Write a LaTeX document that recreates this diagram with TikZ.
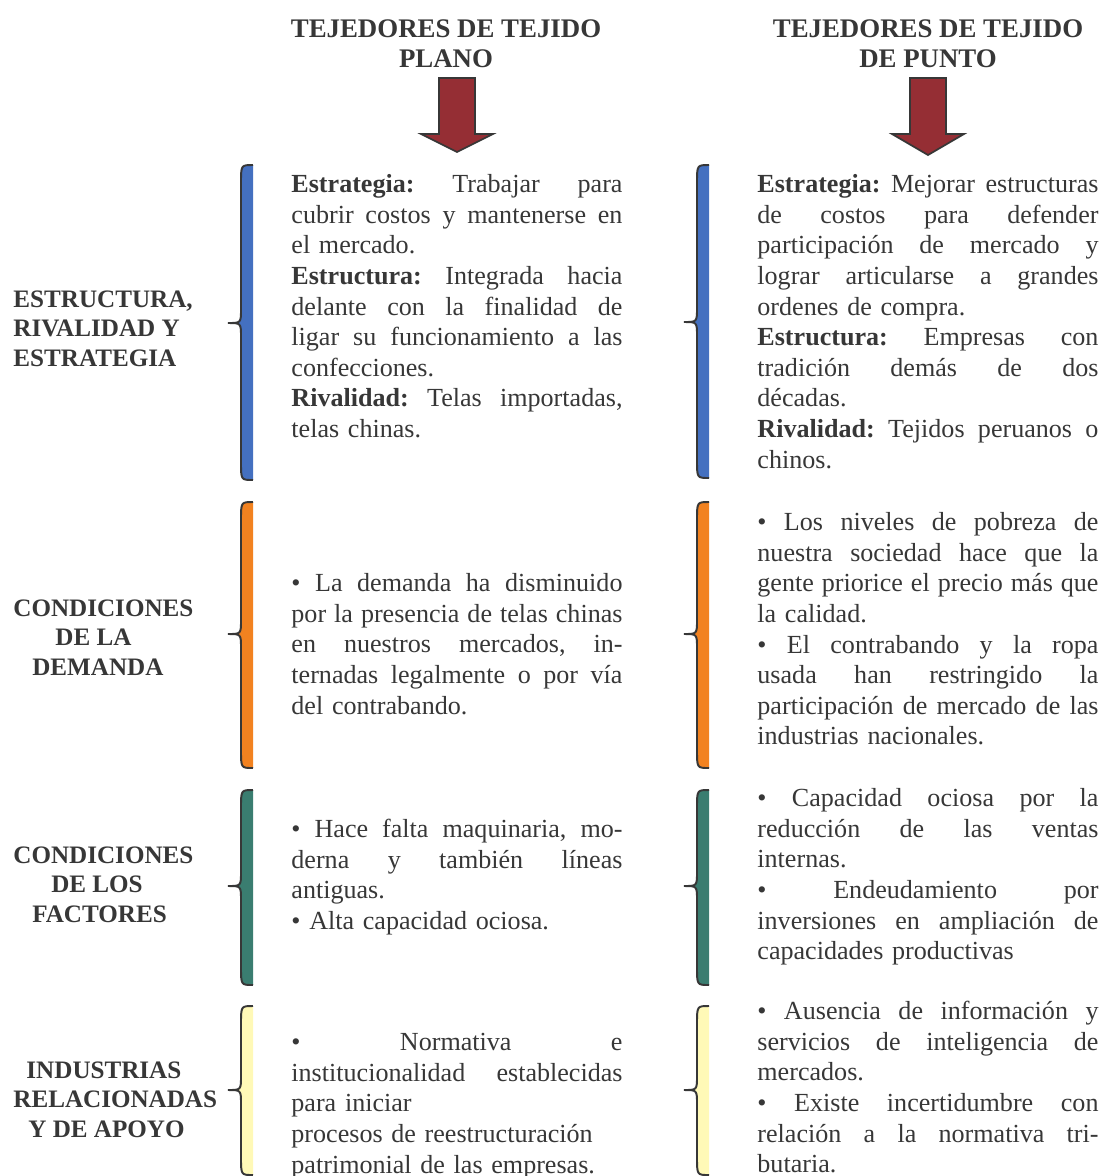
\documentclass[tikz,border=0pt]{standalone}
\usepackage{fontspec}
\setmainfont{Liberation Serif}
\usepackage{tikz}

\definecolor{inkgray}{RGB}{55,55,55}
\definecolor{arrowred}{RGB}{149,46,52}
\definecolor{braceblue}{RGB}{68,112,192}
\definecolor{braceorange}{RGB}{242,130,32}
\definecolor{braceteal}{RGB}{58,125,112}
\definecolor{braceyellow}{RGB}{255,249,183}

% one justified line of a block
\newlength{\linew}
\newcommand{\jl}[1]{\makebox[\linew][s]{\spaceskip=0pt\xspaceskip=0pt #1}}

\begin{document}
\begin{tikzpicture}[x=0.46pt,y=-0.46pt]
	\tikzset{every node/.style={inner sep=0pt,text=inkgray},
		body/.style={anchor=north west,align=left,text width=#1,font=\fontsize{12}{14.1}\selectfont,
			execute at begin node={\setlength{\parindent}{0pt}\setlength{\linew}{#1}\frenchspacing}},
		rowlabel/.style={anchor=north west,align=left,font=\fontsize{11.55}{13.6}\selectfont\bfseries},
		coltitle/.style={anchor=north,align=center,font=\fontsize{12.35}{13.8}\selectfont\bfseries}}
	\useasboundingbox (0,0) rectangle (1102,1176);

	% column titles and arrows
	\node [coltitle] (plano) at (446,16) {\strut TEJEDORES DE TEJIDO\\PLANO};
	\node [coltitle] (punto) at (928,16) {\strut TEJEDORES DE TEJIDO\\DE PUNTO};
	\foreach \cx/\tip in {457/152, 928/155}
		\draw [line width=0.8pt, draw=inkgray, fill=arrowred] (\cx-18,78) -- (\cx+18,78) -- (\cx+18,134) -- (\cx+36,134) -- (\cx,\tip) -- (\cx-36,134) -- (\cx-18,134) -- cycle;

	% braces
	\foreach \xt/\yt/\yb/\ym/\col in {228/165/480/323/braceblue, 228/502/768/634/braceorange, 228/790/985/886/braceteal, 228/1006/1175/1090/braceyellow,
		684/165/478/322/braceblue, 684/502/768/634/braceorange, 684/790/985/886/braceteal, 684/1006/1175/1090/braceyellow}
	{
		\fill [\col] (\xt+25,\yt) .. controls (\xt+13,\yt) .. (\xt+13,\yt+18) -- (\xt+13,\ym-14) .. controls (\xt+13,\ym) .. (\xt,\ym) .. controls (\xt+13,\ym) .. (\xt+13,\ym+14) -- (\xt+13,\yb-18) .. controls (\xt+13,\yb) .. (\xt+25,\yb) -- cycle;
		\draw [inkgray, line width=0.9pt] (\xt+25,\yt) .. controls (\xt+13,\yt) .. (\xt+13,\yt+18) -- (\xt+13,\ym-14) .. controls (\xt+13,\ym) .. (\xt,\ym) .. controls (\xt+13,\ym) .. (\xt+13,\ym+14) -- (\xt+13,\yb-18) .. controls (\xt+13,\yb) .. (\xt+25,\yb);
	}

	% row labels
	\node [rowlabel] (lab1) at (13,286) {\strut ESTRUCTURA,\\RIVALIDAD Y\\ESTRATEGIA};
	\node [rowlabel] (lab2) at (13,595) {\strut CONDICIONES\\\hspace*{19.3pt}DE LA\\\hspace*{8.7pt}DEMANDA};
	\node [rowlabel] (lab3) at (13,842) {\strut CONDICIONES\\\hspace*{17.4pt}DE LOS\\\hspace*{8.7pt}FACTORES};
	\node [rowlabel] (lab4) at (13,1057) {\strut\hspace*{6pt}INDUSTRIAS\\RELACIONADAS\\\hspace*{6.9pt}Y DE APOYO};

	% tejido plano
	\node [body=152.3pt] (plano1) at (291,170.5) {%
		\jl{\strut\textbf{Estrategia:} Trabajar para}\\
		\jl{cubrir costos y mantenerse en}\\
		el mercado.\\
		\jl{\textbf{Estructura:} Integrada hacia}\\
		\jl{delante con la finalidad de}\\
		\jl{ligar su funcionamiento a las}\\
		confecciones.\\
		\jl{\textbf{Rivalidad:} Telas importadas,}\\
		telas chinas.};
	\node [body=152.3pt] (plano2) at (291,569.5) {%
		\jl{\strut• La demanda ha disminuido}\\
		\jl{por la presencia de telas chinas}\\
		\jl{en nuestros mercados, in-}\\
		\jl{ternadas legalmente o por vía}\\
		del contrabando.};
	\node [body=152.3pt] (plano3) at (291,815.5) {%
		\jl{\strut• Hace falta maquinaria, mo-}\\
		\jl{derna y también líneas}\\
		antiguas.\\
		• Alta capacidad ociosa.};
	\node [body=152.3pt] (plano4) at (291,1028.5) {%
		\jl{\strut• Normativa e}\\
		\jl{institucionalidad establecidas}\\
		para iniciar\\
		procesos de reestructuración\\
		patrimonial de las empresas.};

	% tejido de punto
	\node [body=156.9pt] (punto1) at (757,170.5) {%
		\jl{\strut\textbf{Estrategia:} Mejorar estructuras}\\
		\jl{de costos para defender}\\
		\jl{participación de mercado y}\\
		\jl{lograr articularse a grandes}\\
		ordenes de compra.\\
		\jl{\textbf{Estructura:} Empresas con}\\
		\jl{tradición demás de dos}\\
		décadas.\\
		\jl{\textbf{Rivalidad:} Tejidos peruanos o}\\
		chinos.};
	\node [body=156.9pt] (punto2) at (757,508.5) {%
		\jl{\strut• Los niveles de pobreza de}\\
		\jl{nuestra sociedad hace que la}\\
		\jl{gente priorice el precio más que}\\
		la calidad.\\
		\jl{• El contrabando y la ropa}\\
		\jl{usada han restringido la}\\
		\jl{participación de mercado de las}\\
		industrias nacionales.};
	\node [body=156.9pt] (punto3) at (757,784.5) {%
		\jl{\strut• Capacidad ociosa por la}\\
		\jl{reducción de las ventas}\\
		internas.\\
		\jl{• Endeudamiento por}\\
		\jl{inversiones en ampliación de}\\
		capacidades productivas};
	\node [body=156.9pt] (punto4) at (757,997.5) {%
		\jl{\strut• Ausencia de información y}\\
		\jl{servicios de inteligencia de}\\
		mercados.\\
		\jl{• Existe incertidumbre con}\\
		\jl{relación a la normativa tri-}\\
		butaria.};
\end{tikzpicture}
\end{document}
